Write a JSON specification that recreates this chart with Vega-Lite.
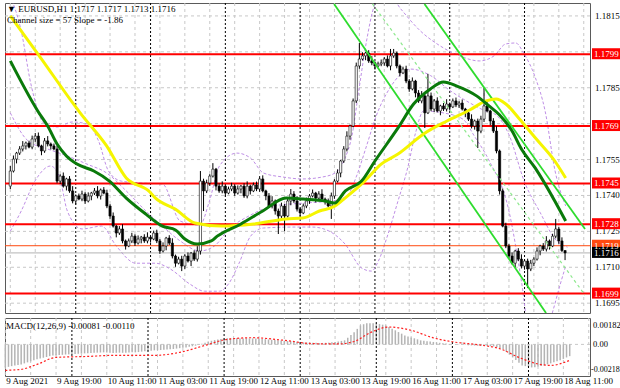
{
"$schema": "https://vega.github.io/schema/vega-lite/v6.json",
"padding": {"left": 2, "top": 2, "right": 6, "bottom": 2},
"background": "white",
"spacing": 3,
"config": {
  "view": {"stroke": "#5A5A5A", "strokeWidth": 1},
  "title": {"font": "Liberation Sans Narrow", "fontSize": 9, "fontWeight": "normal", "color": "black"}
},
"resolve": {"scale": {"y": "independent"}},
"datasets": {
  "days": [{"i":21},{"i":45},{"i":69},{"i":93},{"i":117},{"i":141},{"i":165}],
  "xgrid": [{"i":0},{"i":8},{"i":16},{"i":24},{"i":32},{"i":40},{"i":48},{"i":56},{"i":64},{"i":72},{"i":80},{"i":88},{"i":96},{"i":104},{"i":112},{"i":120},{"i":128},{"i":136},{"i":144},{"i":152},{"i":160},{"i":168},{"i":176},{"i":184}],
  "xlab": [{"i":0,"t":"9 Aug 2021"},{"i":16,"t":"9 Aug 19:00"},{"i":32,"t":"10 Aug 11:00"},{"i":48,"t":"11 Aug 03:00"},{"i":64,"t":"11 Aug 19:00"},{"i":80,"t":"12 Aug 11:00"},{"i":96,"t":"13 Aug 03:00"},{"i":112,"t":"13 Aug 19:00"},{"i":128,"t":"16 Aug 11:00"},{"i":144,"t":"17 Aug 03:00"},{"i":160,"t":"17 Aug 19:00"},{"i":176,"t":"18 Aug 11:00"}],
  "ygrid": [{"p":1.1815},{"p":1.18},{"p":1.1785},{"p":1.177},{"p":1.1755},{"p":1.174},{"p":1.1725},{"p":1.171},{"p":1.1695}],
  "ylab": [{"p":1.1815},{"p":1.1785},{"p":1.1755},{"p":1.174},{"p":1.1725},{"p":1.171},{"p":1.1695}],
  "mlab": [{"v":0.00182,"t":"0.00182","pos":"top"},{"v":0,"t":"0.00","pos":"mid"},{"v":-0.00218,"t":"-0.00218","pos":"bottom"}],
  "levels": [{"p":1.1799,"k":"r"},{"p":1.1769,"k":"r"},{"p":1.1745,"k":"r"},{"p":1.1728,"k":"r"},{"p":1.1699,"k":"r"},{"p":1.1719,"k":"o"},{"p":1.1716,"k":"b"}],
  "chan": [
    {"line":"upper","i":132.9,"p":1.182},{"line":"upper","i":184.4,"p":1.1726},
    {"line":"lower","i":103.9,"p":1.182},{"line":"lower","i":171.9,"p":1.16909},
    {"line":"mid","i":116.2,"p":1.182},{"line":"mid","i":184.4,"p":1.16984}
  ],
  "ma1": [
    {"i":0,"p":1.17962},{"i":8.8,"p":1.17753},{"i":12,"p":1.1769},{"i":15,"p":1.17615},{"i":18,"p":1.17565},{"i":21.4,"p":1.17531},{"i":26.8,"p":1.17502},{"i":31.8,"p":1.1746},{"i":37.2,"p":1.17389},{"i":43.5,"p":1.17322},{"i":48.8,"p":1.17272},{"i":53,"p":1.17256},{"i":56,"p":1.17218},{"i":60,"p":1.17197},{"i":64.5,"p":1.1721},{"i":66.4,"p":1.1723},{"i":74,"p":1.17281},{"i":81,"p":1.17335},{"i":88.5,"p":1.17389},{"i":94,"p":1.17385},{"i":101,"p":1.17377},{"i":104,"p":1.17368},{"i":107.5,"p":1.17419},{"i":112.7,"p":1.1746},{"i":117,"p":1.17544},{"i":124.4,"p":1.17682},{"i":129.4,"p":1.17782},{"i":134.8,"p":1.17845},{"i":139,"p":1.17874},{"i":143.3,"p":1.17857},{"i":149.6,"p":1.17816},{"i":153.6,"p":1.17774},{"i":157,"p":1.17736},{"i":161,"p":1.17669},{"i":164,"p":1.17594},{"i":168.4,"p":1.17515},{"i":174.7,"p":1.17377},{"i":178.2,"p":1.17293}
  ],
  "ma2": [
    {"i":0,"p":1.18150},{"i":9.8,"p":1.17974},{"i":20.5,"p":1.17778},{"i":22.4,"p":1.17745},{"i":30.9,"p":1.17607},{"i":37.2,"p":1.17473},{"i":44.4,"p":1.17419},{"i":46.6,"p":1.17389},{"i":52.9,"p":1.17343},{"i":59.2,"p":1.17285},{"i":67.7,"p":1.17272},{"i":78.1,"p":1.17281},{"i":88.5,"p":1.17302},{"i":93.8,"p":1.17306},{"i":99.2,"p":1.17335},{"i":104.2,"p":1.17356},{"i":107.4,"p":1.17389},{"i":113.7,"p":1.1746},{"i":119,"p":1.17531},{"i":124.4,"p":1.17573},{"i":132.6,"p":1.17657},{"i":140.1,"p":1.17711},{"i":147.4,"p":1.17757},{"i":152.7,"p":1.17795},{"i":155.9,"p":1.17803},{"i":159,"p":1.17782},{"i":163.1,"p":1.17724},{"i":168.5,"p":1.1764},{"i":174.7,"p":1.17544},{"i":178.2,"p":1.17473}
  ],
  "bb": [
    {"b":"u","i":0,"p":1.18234},{"b":"u","i":3.5,"p":1.18087},{"b":"u","i":6.6,"p":1.17866},{"b":"u","i":11,"p":1.17699},{"b":"u","i":15.1,"p":1.17686},{"b":"u","i":19.8,"p":1.17707},{"b":"u","i":24.6,"p":1.17699},{"b":"u","i":28.3,"p":1.17628},{"b":"u","i":31.5,"p":1.17502},{"b":"u","i":35.6,"p":1.1746},{"b":"u","i":41.9,"p":1.17452},{"b":"u","i":48.8,"p":1.17448},{"b":"u","i":54.5,"p":1.17293},{"b":"u","i":60.8,"p":1.17276},{"b":"u","i":63.9,"p":1.17377},{"b":"u","i":67.1,"p":1.17523},{"b":"u","i":72.7,"p":1.17577},{"b":"u","i":77.1,"p":1.17556},{"b":"u","i":81.2,"p":1.17494},{"b":"u","i":87.5,"p":1.17477},{"b":"u","i":93.8,"p":1.17469},{"b":"u","i":100.1,"p":1.17477},{"b":"u","i":104.2,"p":1.17494},{"b":"u","i":107.4,"p":1.17556},{"b":"u","i":109.6,"p":1.17648},{"b":"u","i":111.8,"p":1.17837},{"b":"u","i":114.3,"p":1.18045},{"b":"u","i":116.8,"p":1.18192},{"b":"u","i":120.6,"p":1.18255},{"b":"u","i":125.3,"p":1.18179},{"b":"u","i":131.6,"p":1.18087},{"b":"u","i":137.9,"p":1.18025},{"b":"u","i":144.2,"p":1.17983},{"b":"u","i":150.5,"p":1.17962},{"b":"u","i":155.2,"p":1.17983},{"b":"u","i":159,"p":1.18033},{"b":"u","i":162.2,"p":1.18037},{"b":"u","i":164.7,"p":1.17995},{"b":"u","i":168.5,"p":1.17891},{"b":"u","i":171.6,"p":1.17753},{"b":"u","i":174.8,"p":1.17502},{"b":"u","i":178.2,"p":1.17356},
    {"b":"m","i":0,"p":1.17745},{"b":"m","i":5.7,"p":1.17628},{"b":"m","i":12,"p":1.17594},{"b":"m","i":18.3,"p":1.17565},{"b":"m","i":24.6,"p":1.17531},{"b":"m","i":30.9,"p":1.17494},{"b":"m","i":37.2,"p":1.17419},{"b":"m","i":43.5,"p":1.17335},{"b":"m","i":48.8,"p":1.17272},{"b":"m","i":54.5,"p":1.1721},{"b":"m","i":60.8,"p":1.17168},{"b":"m","i":65.5,"p":1.17189},{"b":"m","i":70.2,"p":1.1726},{"b":"m","i":76.5,"p":1.17314},{"b":"m","i":84.4,"p":1.17356},{"b":"m","i":93.8,"p":1.17368},{"b":"m","i":103.3,"p":1.17377},{"b":"m","i":108,"p":1.17398},{"b":"m","i":111.1,"p":1.17481},{"b":"m","i":114.3,"p":1.17607},{"b":"m","i":117.4,"p":1.17732},{"b":"m","i":122.2,"p":1.17857},{"b":"m","i":128.5,"p":1.17928},{"b":"m","i":134.8,"p":1.17901},{"b":"m","i":141.1,"p":1.17838},{"b":"m","i":147.4,"p":1.17787},{"b":"m","i":152.1,"p":1.17755},{"b":"m","i":155.9,"p":1.17736},{"b":"m","i":160,"p":1.17654},{"b":"m","i":165,"p":1.17456},{"b":"m","i":170,"p":1.17329},{"b":"m","i":174.8,"p":1.17218},{"b":"m","i":178.8,"p":1.17184},
    {"b":"l","i":0,"p":1.17251},{"b":"l","i":3.5,"p":1.17335},{"b":"l","i":7.9,"p":1.1746},{"b":"l","i":12.9,"p":1.17523},{"b":"l","i":15.7,"p":1.17481},{"b":"l","i":18.3,"p":1.17335},{"b":"l","i":23,"p":1.1726},{"b":"l","i":29.3,"p":1.17272},{"b":"l","i":34,"p":1.17189},{"b":"l","i":40.3,"p":1.17117},{"b":"l","i":46.6,"p":1.17117},{"b":"l","i":51.3,"p":1.17093},{"b":"l","i":57.6,"p":1.1703},{"b":"l","i":62.3,"p":1.17},{"b":"l","i":67.1,"p":1.17},{"b":"l","i":70.2,"p":1.17034},{"b":"l","i":73.4,"p":1.17117},{"b":"l","i":77.1,"p":1.1723},{"b":"l","i":81.2,"p":1.17264},{"b":"l","i":90.7,"p":1.17268},{"b":"l","i":97,"p":1.17268},{"b":"l","i":102.3,"p":1.17251},{"b":"l","i":107.4,"p":1.17197},{"b":"l","i":112.7,"p":1.17097},{"b":"l","i":115.9,"p":1.17084},{"b":"l","i":118.1,"p":1.17126},{"b":"l","i":121.2,"p":1.17239},{"b":"l","i":124.4,"p":1.17377},{"b":"l","i":127.5,"p":1.17515},{"b":"l","i":130,"p":1.1766},{"b":"l","i":132.6,"p":1.17753},{"b":"l","i":138.9,"p":1.17745},{"b":"l","i":145.2,"p":1.17719},{"b":"l","i":148.9,"p":1.17648},{"b":"l","i":153.7,"p":1.17544},{"b":"l","i":160,"p":1.17335},{"b":"l","i":164,"p":1.17042},{"b":"l","i":166.2,"p":1.16854},{"b":"l","i":170.9,"p":1.16792},{"b":"l","i":174.1,"p":1.16918},{"b":"l","i":176.3,"p":1.17022},{"b":"l","i":178.2,"p":1.17105}
  ],
  "sig": [
    {"i":0,"s":-0.00179},{"i":5,"s":-0.00172},{"i":10,"s":-0.00138},{"i":16,"s":-0.0009},{"i":26,"s":-0.00083},{"i":34,"s":-0.00076},{"i":47,"s":-0.00076},{"i":55,"s":-0.00055},{"i":63,"s":-0.00007},{"i":70,"s":0.00035},{"i":78,"s":0.00046},{"i":88,"s":0.00028},{"i":97,"s":0.00005},{"i":105,"s":0.00003},{"i":110,"s":0.0002},{"i":115,"s":0.0008},{"i":121,"s":0.0012},{"i":128,"s":0.00097},{"i":135,"s":0.00045},{"i":141,"s":0.00018},{"i":150,"s":-0.00005},{"i":156,"s":-0.0003},{"i":162,"s":-0.0009},{"i":168,"s":-0.00135},{"i":172,"s":-0.00145},{"i":178,"s":-0.0011}
  ],
  "bars": [
{"i":0,"o":1.17439,"h":1.17523,"l":1.17427,"c":1.17502,"m":-0.00159},
{"i":1,"o":1.17502,"h":1.17567,"l":1.17496,"c":1.17552,"m":-0.00155},
{"i":2,"o":1.17552,"h":1.17582,"l":1.17534,"c":1.17577,"m":-0.0015},
{"i":3,"o":1.17577,"h":1.17606,"l":1.17569,"c":1.17594,"m":-0.00146},
{"i":4,"o":1.17594,"h":1.17627,"l":1.17584,"c":1.17607,"m":-0.00142},
{"i":5,"o":1.17607,"h":1.17625,"l":1.17592,"c":1.17619,"m":-0.00138},
{"i":6,"o":1.17619,"h":1.17629,"l":1.17597,"c":1.17602,"m":-0.00131},
{"i":7,"o":1.17602,"h":1.1765,"l":1.17593,"c":1.17636,"m":-0.00124},
{"i":8,"o":1.17636,"h":1.17661,"l":1.17624,"c":1.17648,"m":-0.00117},
{"i":9,"o":1.17648,"h":1.17663,"l":1.17601,"c":1.17607,"m":-0.0011},
{"i":10,"o":1.17607,"h":1.17612,"l":1.17568,"c":1.17586,"m":-0.00103},
{"i":11,"o":1.17586,"h":1.1764,"l":1.17578,"c":1.17628,"m":-0.00098},
{"i":12,"o":1.17628,"h":1.17648,"l":1.17605,"c":1.17615,"m":-0.00092},
{"i":13,"o":1.17615,"h":1.17621,"l":1.17592,"c":1.17607,"m":-0.00087},
{"i":14,"o":1.17607,"h":1.17617,"l":1.17589,"c":1.17594,"m":-0.00081},
{"i":15,"o":1.17594,"h":1.17608,"l":1.17451,"c":1.1746,"m":-0.00076},
{"i":16,"o":1.1746,"h":1.17489,"l":1.17448,"c":1.17481,"m":-0.00075},
{"i":17,"o":1.17481,"h":1.17496,"l":1.17433,"c":1.17439,"m":-0.00073},
{"i":18,"o":1.17439,"h":1.17474,"l":1.17421,"c":1.17469,"m":-0.00072},
{"i":19,"o":1.17469,"h":1.17481,"l":1.17411,"c":1.17419,"m":-0.0007},
{"i":20,"o":1.17419,"h":1.17439,"l":1.17367,"c":1.17377,"m":-0.00069},
{"i":21,"o":1.17377,"h":1.17404,"l":1.17362,"c":1.17398,"m":-0.00068},
{"i":22,"o":1.17398,"h":1.17408,"l":1.1738,"c":1.17385,"m":-0.00066},
{"i":23,"o":1.17385,"h":1.1742,"l":1.17376,"c":1.17406,"m":-0.00065},
{"i":24,"o":1.17406,"h":1.17414,"l":1.17365,"c":1.17377,"m":-0.00064},
{"i":25,"o":1.17377,"h":1.17413,"l":1.17371,"c":1.17398,"m":-0.00062},
{"i":26,"o":1.17398,"h":1.17415,"l":1.1738,"c":1.1741,"m":-0.00061},
{"i":27,"o":1.1741,"h":1.17431,"l":1.17402,"c":1.17419,"m":-0.0006},
{"i":28,"o":1.17419,"h":1.17439,"l":1.17388,"c":1.17398,"m":-0.00058},
{"i":29,"o":1.17398,"h":1.17429,"l":1.17383,"c":1.17423,"m":-0.00057},
{"i":30,"o":1.17423,"h":1.17435,"l":1.17405,"c":1.1741,"m":-0.00056},
{"i":31,"o":1.1741,"h":1.17424,"l":1.17347,"c":1.17356,"m":-0.00055},
{"i":32,"o":1.17356,"h":1.17364,"l":1.17302,"c":1.17314,"m":-0.00056},
{"i":33,"o":1.17314,"h":1.17329,"l":1.17266,"c":1.17272,"m":-0.00058},
{"i":34,"o":1.17272,"h":1.17277,"l":1.17225,"c":1.17243,"m":-0.0006},
{"i":35,"o":1.17243,"h":1.17272,"l":1.17235,"c":1.1726,"m":-0.00058},
{"i":36,"o":1.1726,"h":1.1728,"l":1.172,"c":1.1721,"m":-0.00057},
{"i":37,"o":1.1721,"h":1.17216,"l":1.17174,"c":1.17189,"m":-0.00058},
{"i":38,"o":1.17189,"h":1.1722,"l":1.17184,"c":1.1721,"m":-0.00057},
{"i":39,"o":1.1721,"h":1.17244,"l":1.17201,"c":1.1723,"m":-0.00056},
{"i":40,"o":1.1723,"h":1.17238,"l":1.17189,"c":1.17201,"m":-0.00055},
{"i":41,"o":1.17201,"h":1.17233,"l":1.17195,"c":1.17218,"m":-0.00055},
{"i":42,"o":1.17218,"h":1.17231,"l":1.172,"c":1.17226,"m":-0.00053},
{"i":43,"o":1.17226,"h":1.17238,"l":1.17202,"c":1.1721,"m":-0.0005},
{"i":44,"o":1.1721,"h":1.17246,"l":1.172,"c":1.17226,"m":-0.00048},
{"i":45,"o":1.17226,"h":1.17232,"l":1.17203,"c":1.17218,"m":-0.00046},
{"i":46,"o":1.17218,"h":1.17253,"l":1.17213,"c":1.17243,"m":-0.00043},
{"i":47,"o":1.17243,"h":1.17257,"l":1.17201,"c":1.1721,"m":-0.00041},
{"i":48,"o":1.1721,"h":1.17218,"l":1.17156,"c":1.17168,"m":-0.0004},
{"i":49,"o":1.17168,"h":1.17204,"l":1.17162,"c":1.17189,"m":-0.00039},
{"i":50,"o":1.17189,"h":1.17227,"l":1.17171,"c":1.17222,"m":-0.00037},
{"i":51,"o":1.17222,"h":1.17234,"l":1.17193,"c":1.17201,"m":-0.00036},
{"i":52,"o":1.17201,"h":1.17221,"l":1.17137,"c":1.17147,"m":-0.00034},
{"i":53,"o":1.17147,"h":1.17153,"l":1.17102,"c":1.17117,"m":-0.00032},
{"i":54,"o":1.17117,"h":1.17144,"l":1.17112,"c":1.17134,"m":-0.00029},
{"i":55,"o":1.17134,"h":1.17148,"l":1.17084,"c":1.17105,"m":-0.00026},
{"i":56,"o":1.17105,"h":1.17155,"l":1.17093,"c":1.17147,"m":-0.00024},
{"i":57,"o":1.17147,"h":1.17162,"l":1.1712,"c":1.17126,"m":-0.00021},
{"i":58,"o":1.17126,"h":1.17164,"l":1.17105,"c":1.17159,"m":-0.00017},
{"i":59,"o":1.17159,"h":1.17171,"l":1.17126,"c":1.17134,"m":-0.00013},
{"i":60,"o":1.17134,"h":1.17188,"l":1.17124,"c":1.17168,"m":-0.00009},
{"i":61,"o":1.17168,"h":1.17502,"l":1.17153,"c":1.1746,"m":-0.00002},
{"i":62,"o":1.1746,"h":1.1747,"l":1.17335,"c":1.17419,"m":0.00005},
{"i":63,"o":1.17419,"h":1.17466,"l":1.1741,"c":1.17452,"m":0.00012},
{"i":64,"o":1.17452,"h":1.17489,"l":1.1744,"c":1.17481,"m":0.0002},
{"i":65,"o":1.17481,"h":1.17535,"l":1.17475,"c":1.1751,"m":0.00025},
{"i":66,"o":1.1751,"h":1.17515,"l":1.17421,"c":1.17439,"m":0.0003},
{"i":67,"o":1.17439,"h":1.17451,"l":1.17411,"c":1.17419,"m":0.00034},
{"i":68,"o":1.17419,"h":1.17459,"l":1.17409,"c":1.17439,"m":0.00038},
{"i":69,"o":1.17439,"h":1.17445,"l":1.17395,"c":1.1741,"m":0.00041},
{"i":70,"o":1.1741,"h":1.17437,"l":1.17405,"c":1.17427,"m":0.00042},
{"i":71,"o":1.17427,"h":1.17453,"l":1.17418,"c":1.17439,"m":0.00042},
{"i":72,"o":1.17439,"h":1.17447,"l":1.17398,"c":1.1741,"m":0.00041},
{"i":73,"o":1.1741,"h":1.17442,"l":1.17404,"c":1.17427,"m":0.00042},
{"i":74,"o":1.17427,"h":1.17444,"l":1.17409,"c":1.17439,"m":0.00041},
{"i":75,"o":1.17439,"h":1.17451,"l":1.1739,"c":1.17398,"m":0.00041},
{"i":76,"o":1.17398,"h":1.17459,"l":1.17388,"c":1.17439,"m":0.00042},
{"i":77,"o":1.17439,"h":1.17445,"l":1.17404,"c":1.17419,"m":0.00041},
{"i":78,"o":1.17419,"h":1.17454,"l":1.17414,"c":1.17444,"m":0.00041},
{"i":79,"o":1.17444,"h":1.17458,"l":1.17418,"c":1.17427,"m":0.0004},
{"i":80,"o":1.17427,"h":1.17481,"l":1.17415,"c":1.17469,"m":0.00039},
{"i":81,"o":1.17469,"h":1.17484,"l":1.17413,"c":1.17419,"m":0.00037},
{"i":82,"o":1.17419,"h":1.17424,"l":1.1738,"c":1.17398,"m":0.00036},
{"i":83,"o":1.17398,"h":1.1741,"l":1.17348,"c":1.17356,"m":0.00034},
{"i":84,"o":1.17356,"h":1.17397,"l":1.17346,"c":1.17377,"m":0.00032},
{"i":85,"o":1.17377,"h":1.17383,"l":1.1732,"c":1.17335,"m":0.0003},
{"i":86,"o":1.17335,"h":1.17345,"l":1.17239,"c":1.17314,"m":0.00028},
{"i":87,"o":1.17314,"h":1.1737,"l":1.17305,"c":1.17356,"m":0.00026},
{"i":88,"o":1.17356,"h":1.17364,"l":1.17251,"c":1.17314,"m":0.00025},
{"i":89,"o":1.17314,"h":1.17392,"l":1.17308,"c":1.17377,"m":0.00023},
{"i":90,"o":1.17377,"h":1.17427,"l":1.17359,"c":1.17406,"m":0.00022},
{"i":91,"o":1.17406,"h":1.17418,"l":1.17369,"c":1.17377,"m":0.0002},
{"i":92,"o":1.17377,"h":1.17397,"l":1.17333,"c":1.17343,"m":0.00018},
{"i":93,"o":1.17343,"h":1.17349,"l":1.17312,"c":1.17327,"m":0.00016},
{"i":94,"o":1.17327,"h":1.17366,"l":1.17322,"c":1.17356,"m":0.00014},
{"i":95,"o":1.17356,"h":1.17391,"l":1.17347,"c":1.17377,"m":0.00013},
{"i":96,"o":1.17377,"h":1.17406,"l":1.17365,"c":1.17398,"m":0.00012},
{"i":97,"o":1.17398,"h":1.17425,"l":1.17392,"c":1.1741,"m":0.00012},
{"i":98,"o":1.1741,"h":1.17415,"l":1.17371,"c":1.17389,"m":0.00011},
{"i":99,"o":1.17389,"h":1.17418,"l":1.17381,"c":1.17406,"m":0.0001},
{"i":100,"o":1.17406,"h":1.17426,"l":1.17375,"c":1.17385,"m":0.0001},
{"i":101,"o":1.17385,"h":1.17391,"l":1.17362,"c":1.17377,"m":0.00011},
{"i":102,"o":1.17377,"h":1.17387,"l":1.17351,"c":1.17356,"m":0.00012},
{"i":103,"o":1.17356,"h":1.17412,"l":1.17302,"c":1.17398,"m":0.00014},
{"i":104,"o":1.17398,"h":1.17468,"l":1.17386,"c":1.1746,"m":0.00017},
{"i":105,"o":1.1746,"h":1.17509,"l":1.17454,"c":1.17494,"m":0.0002},
{"i":106,"o":1.17494,"h":1.17549,"l":1.17476,"c":1.17544,"m":0.00024},
{"i":107,"o":1.17544,"h":1.17606,"l":1.17536,"c":1.17594,"m":0.00028},
{"i":108,"o":1.17594,"h":1.17668,"l":1.17584,"c":1.17648,"m":0.00045},
{"i":109,"o":1.17648,"h":1.17696,"l":1.17633,"c":1.1769,"m":0.00065},
{"i":110,"o":1.1769,"h":1.17805,"l":1.17685,"c":1.17795,"m":0.00083},
{"i":111,"o":1.17795,"h":1.17955,"l":1.17786,"c":1.17941,"m":0.00107},
{"i":112,"o":1.17941,"h":1.18037,"l":1.17929,"c":1.1797,"m":0.00131},
{"i":113,"o":1.1797,"h":1.17998,"l":1.17964,"c":1.17983,"m":0.00139},
{"i":114,"o":1.17983,"h":1.18,"l":1.17965,"c":1.17995,"m":0.00145},
{"i":115,"o":1.17995,"h":1.18007,"l":1.17954,"c":1.17962,"m":0.00146},
{"i":116,"o":1.17962,"h":1.17982,"l":1.17944,"c":1.17954,"m":0.00146},
{"i":117,"o":1.17954,"h":1.1796,"l":1.17926,"c":1.17941,"m":0.00145},
{"i":118,"o":1.17941,"h":1.17959,"l":1.17936,"c":1.17949,"m":0.0014},
{"i":119,"o":1.17949,"h":1.17968,"l":1.1794,"c":1.17954,"m":0.00136},
{"i":120,"o":1.17954,"h":1.17978,"l":1.17942,"c":1.1797,"m":0.00131},
{"i":121,"o":1.1797,"h":1.17985,"l":1.17935,"c":1.17941,"m":0.0012},
{"i":122,"o":1.17941,"h":1.18012,"l":1.17923,"c":1.17983,"m":0.00108},
{"i":123,"o":1.17983,"h":1.18012,"l":1.17975,"c":1.17995,"m":0.00097},
{"i":124,"o":1.17995,"h":1.18001,"l":1.17931,"c":1.17941,"m":0.00085},
{"i":125,"o":1.17941,"h":1.17947,"l":1.17897,"c":1.17912,"m":0.00074},
{"i":126,"o":1.17912,"h":1.17938,"l":1.17907,"c":1.17928,"m":0.00062},
{"i":127,"o":1.17928,"h":1.17942,"l":1.17869,"c":1.17878,"m":0.00055},
{"i":128,"o":1.17878,"h":1.17886,"l":1.17833,"c":1.17845,"m":0.00048},
{"i":129,"o":1.17845,"h":1.17893,"l":1.17839,"c":1.17878,"m":0.00042},
{"i":130,"o":1.17878,"h":1.17883,"l":1.1781,"c":1.17828,"m":0.00035},
{"i":131,"o":1.17828,"h":1.1784,"l":1.17787,"c":1.17795,"m":0.00028},
{"i":132,"o":1.17795,"h":1.17836,"l":1.17785,"c":1.17816,"m":0.00025},
{"i":133,"o":1.17816,"h":1.17822,"l":1.17682,"c":1.17745,"m":0.00022},
{"i":134,"o":1.17745,"h":1.17908,"l":1.1774,"c":1.17816,"m":0.0002},
{"i":135,"o":1.17816,"h":1.1783,"l":1.17752,"c":1.17761,"m":0.00017},
{"i":136,"o":1.17761,"h":1.17803,"l":1.17749,"c":1.17795,"m":0.00014},
{"i":137,"o":1.17795,"h":1.1781,"l":1.17747,"c":1.17753,"m":0.00011},
{"i":138,"o":1.17753,"h":1.17779,"l":1.17735,"c":1.17774,"m":0.00008},
{"i":139,"o":1.17774,"h":1.17786,"l":1.17753,"c":1.17761,"m":0.00006},
{"i":140,"o":1.17761,"h":1.17802,"l":1.17751,"c":1.17782,"m":0.00003},
{"i":141,"o":1.17782,"h":1.17788,"l":1.17755,"c":1.1777,"m":0},
{"i":142,"o":1.1777,"h":1.17805,"l":1.17765,"c":1.17795,"m":-0.00001},
{"i":143,"o":1.17795,"h":1.17809,"l":1.17769,"c":1.17778,"m":-0.00002},
{"i":144,"o":1.17778,"h":1.17794,"l":1.17766,"c":1.17786,"m":-0.00003},
{"i":145,"o":1.17786,"h":1.17801,"l":1.17755,"c":1.17761,"m":-0.00005},
{"i":146,"o":1.17761,"h":1.17766,"l":1.17727,"c":1.17745,"m":-0.00006},
{"i":147,"o":1.17745,"h":1.17757,"l":1.17711,"c":1.17719,"m":-0.00007},
{"i":148,"o":1.17719,"h":1.17739,"l":1.1768,"c":1.1769,"m":-0.00008},
{"i":149,"o":1.1769,"h":1.17717,"l":1.17675,"c":1.17711,"m":-0.00009},
{"i":150,"o":1.17711,"h":1.17721,"l":1.17598,"c":1.17669,"m":-0.0001},
{"i":151,"o":1.17669,"h":1.17733,"l":1.1766,"c":1.17719,"m":-0.00011},
{"i":152,"o":1.17719,"h":1.17849,"l":1.17707,"c":1.17774,"m":-0.00012},
{"i":153,"o":1.17774,"h":1.17789,"l":1.17747,"c":1.17753,"m":-0.00013},
{"i":154,"o":1.17753,"h":1.17758,"l":1.17693,"c":1.17711,"m":-0.00014},
{"i":155,"o":1.17711,"h":1.17723,"l":1.17661,"c":1.17669,"m":-0.0002},
{"i":156,"o":1.17669,"h":1.17689,"l":1.17576,"c":1.17586,"m":-0.00027},
{"i":157,"o":1.17586,"h":1.17592,"l":1.17404,"c":1.17419,"m":-0.00034},
{"i":158,"o":1.17419,"h":1.17429,"l":1.17267,"c":1.17272,"m":-0.00052},
{"i":159,"o":1.17272,"h":1.17286,"l":1.1718,"c":1.17189,"m":-0.00071},
{"i":160,"o":1.17189,"h":1.17197,"l":1.17135,"c":1.17147,"m":-0.0009},
{"i":161,"o":1.17147,"h":1.17162,"l":1.17111,"c":1.17117,"m":-0.00108},
{"i":162,"o":1.17117,"h":1.17173,"l":1.17099,"c":1.17168,"m":-0.00127},
{"i":163,"o":1.17168,"h":1.1718,"l":1.17126,"c":1.17134,"m":-0.00145},
{"i":164,"o":1.17134,"h":1.17154,"l":1.17095,"c":1.17105,"m":-0.0015},
{"i":165,"o":1.17105,"h":1.17132,"l":1.1709,"c":1.17126,"m":-0.00155},
{"i":166,"o":1.17126,"h":1.17136,"l":1.17013,"c":1.17093,"m":-0.00159},
{"i":167,"o":1.17093,"h":1.17131,"l":1.17084,"c":1.17117,"m":-0.00157},
{"i":168,"o":1.17117,"h":1.17142,"l":1.17105,"c":1.17134,"m":-0.00153},
{"i":169,"o":1.17134,"h":1.17183,"l":1.17128,"c":1.17168,"m":-0.00149},
{"i":170,"o":1.17168,"h":1.17194,"l":1.1715,"c":1.17189,"m":-0.00145},
{"i":171,"o":1.17189,"h":1.17201,"l":1.17168,"c":1.17176,"m":-0.00138},
{"i":172,"o":1.17176,"h":1.1723,"l":1.17166,"c":1.1721,"m":-0.00131},
{"i":173,"o":1.1721,"h":1.17216,"l":1.17174,"c":1.17189,"m":-0.00124},
{"i":174,"o":1.17189,"h":1.1724,"l":1.17184,"c":1.1723,"m":-0.00117},
{"i":175,"o":1.1723,"h":1.17302,"l":1.17221,"c":1.1726,"m":-0.0011},
{"i":176,"o":1.1726,"h":1.17268,"l":1.17198,"c":1.1721,"m":-0.001},
{"i":177,"o":1.1721,"h":1.17225,"l":1.17164,"c":1.1717,"m":-0.0009},
{"i":178,"o":1.1717,"h":1.1717,"l":1.1713,"c":1.1716,"m":-0.00081}
  ]
},
"vconcat": [
{
  "width": 585, "height": 310,
  "title": {"text": ["▼ EURUSD,H1  1.1717 1.1717 1.1713 1.1716", "Channel size = 57 Slope = -1.86"], "anchor": "start", "offset": -22, "dx": 3, "lineHeight": 11},
  "layer": [
    {"data": {"name": "xgrid"}, "mark": {"type": "rule", "color": "#C8C8C8", "strokeDash": [3, 3], "strokeWidth": 1},
     "encoding": {"x": {"field": "i", "type": "quantitative", "scale": {"domain": [-0.1, 184.4], "nice": false, "zero": false}, "axis": null}}},
    {"data": {"name": "ygrid"}, "mark": {"type": "rule", "color": "#C8C8C8", "strokeDash": [3, 3], "strokeWidth": 1},
     "encoding": {"y": {"field": "p", "type": "quantitative", "scale": {"domain": [1.16909, 1.18204], "nice": false, "zero": false}, "axis": null, "title": null}}},
    {"data": {"name": "days"}, "mark": {"type": "rule", "color": "black", "strokeDash": [2, 2], "strokeWidth": 1},
     "encoding": {"x": {"field": "i", "type": "quantitative", "scale": {"domain": [-0.1, 184.4], "nice": false, "zero": false}, "axis": null}}},
    {"data": {"name": "bb"}, "mark": {"type": "line", "color": "#BF8FE6", "strokeWidth": 1, "strokeDash": [3, 2], "clip": true, "interpolate": "monotone"},
     "encoding": {"x": {"field": "i", "type": "quantitative", "scale": {"domain": [-0.1, 184.4], "nice": false, "zero": false}, "axis": null},
       "y": {"field": "p", "type": "quantitative", "scale": {"domain": [1.16909, 1.18204], "nice": false, "zero": false}, "axis": null, "title": null},
       "detail": {"field": "b", "type": "nominal"}}},
    {"data": {"name": "levels"}, "transform": [{"filter": "datum.k == 'r'"}], "mark": {"type": "rule", "color": "#FF0000", "strokeWidth": 2},
     "encoding": {"y": {"field": "p", "type": "quantitative", "scale": {"domain": [1.16909, 1.18204], "nice": false, "zero": false}, "axis": null, "title": null}}},
    {"data": {"name": "levels"}, "transform": [{"filter": "datum.k != 'r'"}], "mark": {"type": "rule", "strokeWidth": 1},
     "encoding": {"y": {"field": "p", "type": "quantitative", "scale": {"domain": [1.16909, 1.18204], "nice": false, "zero": false}, "axis": null, "title": null},
       "stroke": {"field": "k", "type": "nominal", "scale": {"domain": ["o", "b"], "range": ["#FF4A10", "#B4B4B4"]}, "legend": null}}},
    {"data": {"name": "bars"}, "mark": {"type": "rule", "color": "black", "strokeWidth": 1},
     "encoding": {"x": {"field": "i", "type": "quantitative", "scale": {"domain": [-0.1, 184.4], "nice": false, "zero": false}, "axis": null},
       "y": {"field": "l", "type": "quantitative", "scale": {"domain": [1.16909, 1.18204], "nice": false, "zero": false}, "axis": null, "title": null},
       "y2": {"field": "h"}}},
    {"data": {"name": "bars"}, "mark": {"type": "bar", "width": 2.2, "stroke": "black", "strokeWidth": 0.6},
     "encoding": {"x": {"field": "i", "type": "quantitative", "scale": {"domain": [-0.1, 184.4], "nice": false, "zero": false}, "axis": null},
       "y": {"field": "o", "type": "quantitative", "scale": {"domain": [1.16909, 1.18204], "nice": false, "zero": false}, "axis": null, "title": null},
       "y2": {"field": "c"},
       "fill": {"condition": {"test": "datum.c >= datum.o", "value": "white"}, "value": "black"}}},
    {"data": {"name": "chan"}, "transform": [{"filter": "datum.line != 'mid'"}], "mark": {"type": "line", "color": "#2EDC2E", "strokeWidth": 1.8, "clip": true},
     "encoding": {"x": {"field": "i", "type": "quantitative", "scale": {"domain": [-0.1, 184.4], "nice": false, "zero": false}, "axis": null},
       "y": {"field": "p", "type": "quantitative", "scale": {"domain": [1.16909, 1.18204], "nice": false, "zero": false}, "axis": null, "title": null},
       "detail": {"field": "line", "type": "nominal"}}},
    {"data": {"name": "chan"}, "transform": [{"filter": "datum.line == 'mid'"}], "mark": {"type": "line", "color": "#8EE88E", "strokeWidth": 1.2, "strokeDash": [3, 3], "clip": true},
     "encoding": {"x": {"field": "i", "type": "quantitative", "scale": {"domain": [-0.1, 184.4], "nice": false, "zero": false}, "axis": null},
       "y": {"field": "p", "type": "quantitative", "scale": {"domain": [1.16909, 1.18204], "nice": false, "zero": false}, "axis": null, "title": null}}},
    {"data": {"name": "ma2"}, "mark": {"type": "line", "color": "#F5F500", "strokeWidth": 3, "clip": true, "interpolate": "monotone"},
     "encoding": {"x": {"field": "i", "type": "quantitative", "scale": {"domain": [-0.1, 184.4], "nice": false, "zero": false}, "axis": null},
       "y": {"field": "p", "type": "quantitative", "scale": {"domain": [1.16909, 1.18204], "nice": false, "zero": false}, "axis": null, "title": null}}},
    {"data": {"name": "ma1"}, "mark": {"type": "line", "color": "#0A7A0A", "strokeWidth": 3, "clip": true, "interpolate": "monotone"},
     "encoding": {"x": {"field": "i", "type": "quantitative", "scale": {"domain": [-0.1, 184.4], "nice": false, "zero": false}, "axis": null},
       "y": {"field": "p", "type": "quantitative", "scale": {"domain": [1.16909, 1.18204], "nice": false, "zero": false}, "axis": null, "title": null}}},
    {"data": {"name": "ylab"}, "mark": {"type": "text", "align": "left", "baseline": "middle", "dx": 5, "color": "black", "fontSize": 9, "font": "Liberation Sans Narrow"},
     "encoding": {"x": {"value": "width"},
       "y": {"field": "p", "type": "quantitative", "scale": {"domain": [1.16909, 1.18204], "nice": false, "zero": false}, "axis": null, "title": null},
       "text": {"field": "p", "type": "quantitative", "format": ".4f"}}},
    {"data": {"name": "levels"}, "mark": {"type": "rect", "xOffset": 2, "x2Offset": 30, "yOffset": -6, "y2Offset": 5},
     "encoding": {"x": {"value": "width"}, "x2": {"value": "width"},
       "y": {"field": "p", "type": "quantitative", "scale": {"domain": [1.16909, 1.18204], "nice": false, "zero": false}, "axis": null, "title": null},
       "y2": {"field": "p"},
       "fill": {"field": "k", "type": "nominal", "scale": {"domain": ["r", "o", "b"], "range": ["#FF0000", "#FF4A10", "#000000"]}, "legend": null}}},
    {"data": {"name": "levels"}, "mark": {"type": "text", "align": "left", "baseline": "middle", "dx": 4, "color": "white", "fontSize": 9, "font": "Liberation Sans Narrow"},
     "encoding": {"x": {"value": "width"},
       "y": {"field": "p", "type": "quantitative", "scale": {"domain": [1.16909, 1.18204], "nice": false, "zero": false}, "axis": null, "title": null},
       "text": {"field": "p", "type": "quantitative", "format": ".4f"}}}
  ]
},
{
  "width": 585, "height": 58,
  "title": {"text": "MACD(12,26,9) -0.00081 -0.00110", "anchor": "start", "offset": -13, "dx": 3},
  "layer": [
    {"data": {"name": "xgrid"}, "mark": {"type": "rule", "color": "#C8C8C8", "strokeDash": [3, 3], "strokeWidth": 1},
     "encoding": {"x": {"field": "i", "type": "quantitative", "scale": {"domain": [-0.1, 184.4], "nice": false, "zero": false}, "axis": null}}},
    {"data": {"name": "mlab"}, "transform": [{"filter": "datum.v == 0"}], "mark": {"type": "rule", "color": "#C8C8C8", "strokeDash": [3, 3], "strokeWidth": 1},
     "encoding": {"y": {"field": "v", "type": "quantitative", "scale": {"domain": [-0.00218, 0.00182], "nice": false, "zero": false}, "axis": null, "title": null}}},
    {"data": {"name": "bars"}, "mark": {"type": "rule", "color": "#B4B4B4", "strokeWidth": 1.5},
     "encoding": {"x": {"field": "i", "type": "quantitative", "scale": {"domain": [-0.1, 184.4], "nice": false, "zero": false}, "axis": null},
       "y": {"field": "m", "type": "quantitative", "scale": {"domain": [-0.00218, 0.00182], "nice": false, "zero": false}, "axis": null, "title": null},
       "y2": {"datum": 0}}},
    {"data": {"name": "days"}, "mark": {"type": "rule", "color": "black", "strokeDash": [2, 2], "strokeWidth": 1},
     "encoding": {"x": {"field": "i", "type": "quantitative", "scale": {"domain": [-0.1, 184.4], "nice": false, "zero": false}, "axis": null}}},
    {"data": {"name": "sig"}, "mark": {"type": "line", "color": "#FF2020", "strokeDash": [2, 2], "strokeWidth": 1.2, "interpolate": "monotone"},
     "encoding": {"x": {"field": "i", "type": "quantitative", "scale": {"domain": [-0.1, 184.4], "nice": false, "zero": false}, "axis": null},
       "y": {"field": "s", "type": "quantitative", "scale": {"domain": [-0.00218, 0.00182], "nice": false, "zero": false}, "axis": null, "title": null}}},
    {"data": {"name": "mlab"}, "transform": [{"filter": "datum.pos == 'top'"}], "mark": {"type": "text", "align": "left", "baseline": "top", "dx": 3, "dy": 3, "color": "black", "fontSize": 8.5, "font": "Liberation Sans Narrow"},
     "encoding": {"x": {"value": "width"},
       "y": {"field": "v", "type": "quantitative", "scale": {"domain": [-0.00218, 0.00182], "nice": false, "zero": false}, "axis": null, "title": null},
       "text": {"field": "t", "type": "nominal"}}},
    {"data": {"name": "mlab"}, "transform": [{"filter": "datum.pos == 'mid'"}], "mark": {"type": "text", "align": "left", "baseline": "middle", "dx": 3, "color": "black", "fontSize": 8.5, "font": "Liberation Sans Narrow"},
     "encoding": {"x": {"value": "width"},
       "y": {"field": "v", "type": "quantitative", "scale": {"domain": [-0.00218, 0.00182], "nice": false, "zero": false}, "axis": null, "title": null},
       "text": {"field": "t", "type": "nominal"}}},
    {"data": {"name": "mlab"}, "transform": [{"filter": "datum.pos == 'bottom'"}], "mark": {"type": "text", "align": "left", "baseline": "bottom", "dx": 1, "dy": -2, "color": "black", "fontSize": 8, "font": "Liberation Sans Narrow"},
     "encoding": {"x": {"value": "width"},
       "y": {"field": "v", "type": "quantitative", "scale": {"domain": [-0.00218, 0.00182], "nice": false, "zero": false}, "axis": null, "title": null},
       "text": {"field": "t", "type": "nominal"}}},
    {"data": {"name": "xlab"}, "mark": {"type": "text", "align": "left", "baseline": "middle", "dx": 1, "dy": 5, "color": "black", "fontSize": 9, "font": "Liberation Sans Narrow"},
     "encoding": {"x": {"field": "i", "type": "quantitative", "scale": {"domain": [-0.1, 184.4], "nice": false, "zero": false}, "axis": null},
       "y": {"value": "height"},
       "text": {"field": "t", "type": "nominal"}}}
  ]
}
]
}
